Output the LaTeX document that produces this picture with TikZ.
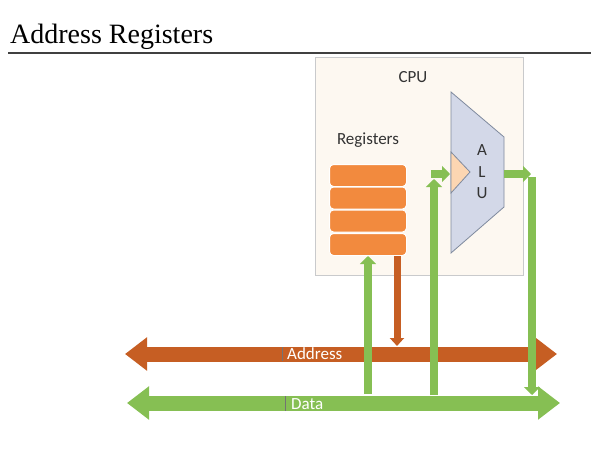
\documentclass[tikz,border=0pt]{standalone}
\usepackage{fontspec}
\setmainfont{Liberation Serif}
\newfontfamily\lblfont{Carlito}
\usetikzlibrary{arrows.meta}
\definecolor{addrc}{HTML}{C65E23}
\definecolor{datac}{HTML}{86BF53}
\definecolor{regc}{HTML}{F28A3E}
\definecolor{cpuc}{HTML}{FDF8F1}
\definecolor{cpub}{HTML}{C9CACC}
\definecolor{aluc}{HTML}{D3D8E8}
\definecolor{alub}{HTML}{7F8A9E}
\definecolor{triac}{HTML}{FCD6B2}
\tikzset{
  x=1pt, y=-1pt,
  lbl/.style={font=\lblfont\fontsize{17}{19}\selectfont, text=black!80, inner sep=0pt},
  buslbl/.style={font=\lblfont\fontsize{17}{19}\selectfont, text=white, inner sep=0pt, anchor=west},
  regbox/.style={draw=white, line width=1pt, fill=regc, rounded corners=4pt},
  gar/.style={draw=datac, line width=8pt, -{Triangle[width=16pt,length=8pt]}},
  bar/.style={draw=addrc, line width=7pt, -{Triangle[width=14pt,length=8pt]}},
  bus/.style={line width=15pt, {Triangle[width=32pt,length=22pt]}-{Triangle[width=32pt,length=22pt]}},
  tick/.style={draw=black!55, line width=1pt}
}
\begin{document}
\begin{tikzpicture}
\useasboundingbox (0,0) rectangle (591,463);
% title
\node[anchor=base west, inner sep=0pt, font=\fontsize{28}{32}\selectfont] (title) at (10,43) {Address Registers};
\draw[black!75, line width=1.6pt] (8,53) -- (591,53);
% CPU box
\node[draw=cpub, fill=cpuc, line width=0.8pt, minimum width=208pt, minimum height=218pt, inner sep=0pt] (cpu) at (419.5,166) {};
\node[lbl] (cpulbl) at (413,77) {CPU};
\node[lbl] (reglbl) at (368,140) {Registers};
% registers
\node[regbox, minimum width=77pt, minimum height=22pt] (r1) at (368,175.5) {};
\node[regbox, minimum width=77pt, minimum height=22pt] (r2) at (368,198) {};
\node[regbox, minimum width=77pt, minimum height=22pt] (r3) at (368,221) {};
\node[regbox, minimum width=77pt, minimum height=22pt] (r4) at (368,244.5) {};
% ALU
\draw[fill=aluc, draw=alub, line width=0.8pt] (451,92) -- (504,137) -- (504,207) -- (451,253) -- cycle;
\draw[fill=triac, draw=alub, line width=0.8pt] (451,152) -- (470,172) -- (451,193) -- cycle;
\coordinate (triin) at (450,174);
\coordinate (aluout) at (504,174);
\node[lbl] (la) at (482,150) {A};
\node[lbl] (ll) at (482,172) {L};
\node[lbl] (lu) at (482,193) {U};
% buses
\coordinate (aL) at (125,354);
\coordinate (aR) at (557,354);
\coordinate (dL) at (127,403);
\coordinate (dR) at (560,403);
\draw[bus, draw=addrc, color=addrc] (aL) -- (aR);
\draw[bus, draw=datac, color=datac] (dL) -- (dR);
\draw[tick] (282,347) -- (282,361);
\draw[tick] (285,396) -- (285,411);
\node[buslbl] (alab) at (287,354) {Address};
\node[buslbl] (dlab) at (291,404) {Data};
% connectors
\coordinate (d1) at (368,394);
\coordinate (d2) at (434,395);
\coordinate (d3) at (532,395);
\coordinate (a1) at (397,346);
\coordinate (up2) at (434,179);
\coordinate (h2) at (431,174);
\coordinate (o1) at (531,174);
\coordinate (o2) at (532,177);
\draw[gar] (d1) -- (r4.south -| d1);
\draw[bar] (r4.south -| a1) -- (a1);
\draw[gar] (d2) -- (up2);
\draw[gar] (h2) -- (triin);
\draw[gar] (aluout) -- (o1);
\draw[gar] (o2) -- (d3);
\end{tikzpicture}
\end{document}
